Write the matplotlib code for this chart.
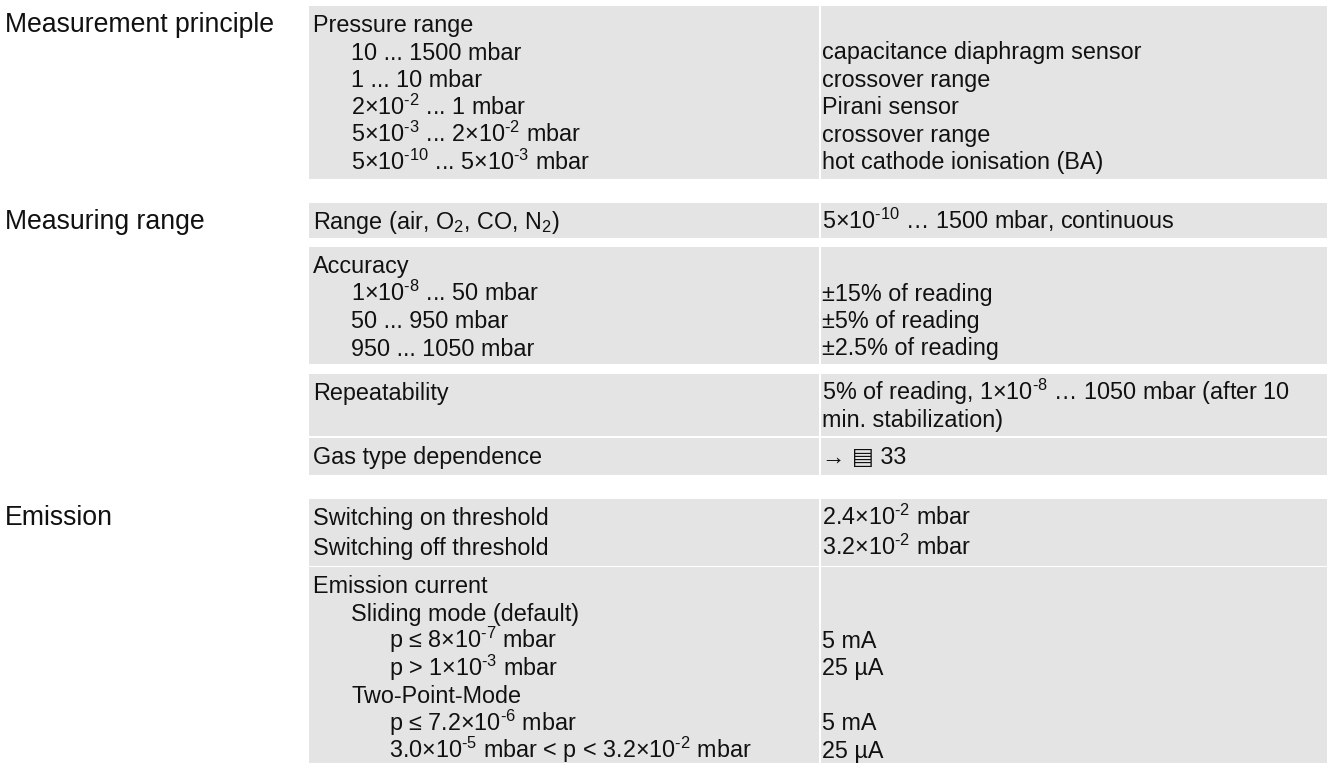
import matplotlib
matplotlib.use("Agg")
import matplotlib.pyplot as plt
from matplotlib.patches import Rectangle

plt.rcParams['font.family'] = ['Liberation Sans', 'DejaVu Sans']
plt.rcParams['mathtext.fontset'] = 'custom'
plt.rcParams['mathtext.rm'] = 'Liberation Sans'
plt.rcParams['mathtext.it'] = 'Liberation Sans:italic'
plt.rcParams['mathtext.bf'] = 'Liberation Sans:bold'


def sup(s):
    # superscript with a plain hyphen instead of the long math minus
    return r"$^{\text{" + s + "}}$"


# section labels in the left margin
section_labels = ["Measurement principle", "Measuring range", "Emission"]

# table rows: left text, indent level, right text
principle_left = ["Pressure range", "10 ... 1500 mbar", "1 ... 10 mbar",
                  "2×10" + sup("-2") + " ... 1 mbar",
                  "5×10" + sup("-3") + " ... 2×10" + sup("-2") + " mbar",
                  "5×10" + sup("-10") + " ... 5×10" + sup("-3") + " mbar"]
principle_indent = [0, 1, 1, 1, 1, 1]
principle_right = ["", "capacitance diaphragm sensor", "crossover range",
                   "Pirani sensor", "crossover range", "hot cathode ionisation (BA)"]

range_left = [r"Range (air, O$_2$, CO, N$_2$)"]
range_indent = [0]
range_right = ["5×10" + sup("-10") + " … 1500 mbar, continuous"]

accuracy_left = ["Accuracy", "1×10" + sup("-8") + " ... 50 mbar", "50 ... 950 mbar", "950 ... 1050 mbar"]
accuracy_indent = [0, 1, 1, 1]
accuracy_right = ["", "±15% of reading", "±5% of reading", "±2.5% of reading"]

repeat_left = ["Repeatability"]
repeat_indent = [0]
repeat_right = ["5% of reading, 1×10" + sup("-8") + " … 1050 mbar (after 10", "min. stabilization)"]

gas_left = ["Gas type dependence"]
gas_indent = [0]
gas_right = ["→ ▤ 33"]

switch_left = ["Switching on threshold", "Switching off threshold"]
switch_indent = [0, 0]
switch_right = ["2.4×10" + sup("-2") + " mbar", "3.2×10" + sup("-2") + " mbar"]

emission_left = ["Emission current", "Sliding mode (default)",
                 "p ≤ 8×10" + sup("-7") + " mbar",
                 "p > 1×10" + sup("-3") + " mbar", "Two-Point-Mode",
                 "p ≤ 7.2×10" + sup("-6") + " mbar",
                 "3.0×10" + sup("-5") + " mbar < p < 3.2×10" + sup("-2") + " mbar"]
emission_indent = [0, 1, 2, 2, 1, 2, 2]
emission_right = ["", "", "5 mA", "25 µA", "", "5 mA", "25 µA"]

rows = [
    (principle_left, principle_indent, principle_right),
    (range_left, range_indent, range_right),
    (accuracy_left, accuracy_indent, accuracy_right),
    (repeat_left, repeat_indent, repeat_right),
    (gas_left, gas_indent, gas_right),
    (switch_left, switch_indent, switch_right),
    (emission_left, emission_indent, emission_right),
]

# layout (pixels)
row_top = [6, 203, 247, 374, 438, 499, 567]
row_height = [173, 35, 117, 62, 37, 67, 220]
row_step = [27.5, 27.5, 27.5, 27.5, 27.5, 30, 27.5]
section_rows = [0, 1, 5]

W, H = 1327, 763
x_left, x_div, x_right = 309, 819, 1327
gray = '#e4e4e4'
ink = '#111111'

fig = plt.figure(figsize=(W / 100, H / 100), dpi=100)
ax = fig.add_axes([0, 0, 1, 1])
ax.set_xlim(0, W)
ax.set_ylim(H, 0)
ax.axis('off')

for (left, indent, right), top, h, step in zip(rows, row_top, row_height, row_step):
    ax.add_patch(Rectangle((x_left, top), x_div - x_left, h, facecolor=gray, edgecolor='none'))
    ax.add_patch(Rectangle((x_div + 1.5, top), x_right - x_div - 1.5, h, facecolor=gray, edgecolor='none'))
    for i, txt in enumerate(left):
        ax.text(x_left + 4 + 38 * indent[i], top + 26 + i * step, txt,
                fontsize=16.8, color=ink, va='baseline', ha='left')
    for i, txt in enumerate(right):
        if txt:
            ax.text(x_div + 3, top + 26 + i * step, txt,
                    fontsize=16.8, color=ink, va='baseline', ha='left')

for lab, r in zip(section_labels, section_rows):
    ax.text(5, row_top[r] + 26, lab, fontsize=19.2, color=ink, va='baseline', ha='left')

fig.savefig('out.png', dpi=100, facecolor='white')
